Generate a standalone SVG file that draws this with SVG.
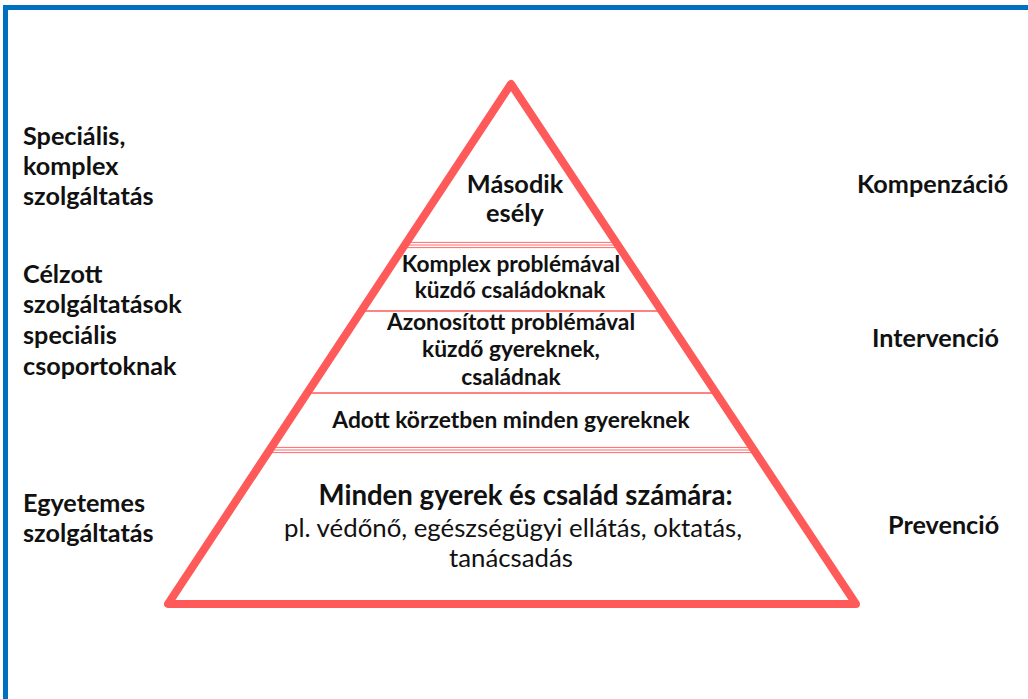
<svg xmlns="http://www.w3.org/2000/svg" width="1028" height="699" viewBox="0 0 1028 699">
<style>
text{font-family:Lato,"Liberation Sans",sans-serif;fill:#111;}
.b{font-weight:bold;}
.side{font-size:25.2px;font-weight:bold;}
.c{text-anchor:middle;}
.div{stroke:#ff5a5a;stroke-width:1.6;fill:none;}
.tri3{stroke:#ff6a6a;stroke-width:1;fill:none;}
</style>
<rect x="0" y="0" width="1028" height="699" fill="#fff"/>
<rect id="frame" x="5.5" y="7.5" width="1040" height="720" fill="none" stroke="#0070c0" stroke-width="5"/>
<g id="connectors">
  <g class="tri3">
    <line x1="406.5" y1="242.4" x2="616.1" y2="242.4"/>
    <line x1="404.8" y1="245" x2="617.8" y2="245"/>
    <line x1="403.2" y1="247.6" x2="619.5" y2="247.6"/>
    <line x1="271.3" y1="447.4" x2="752.1" y2="447.4"/>
    <line x1="269.6" y1="450" x2="753.8" y2="450"/>
    <line x1="267.9" y1="452.6" x2="755.5" y2="452.6"/>
  </g>
  <line class="div" x1="361.3" y1="311" x2="661.6" y2="311"/>
  <line class="div" x1="307.2" y1="393" x2="716" y2="393"/>
</g>
<g id="pyramid">
  <path d="M511 84 L168 604 L856 604 Z" fill="none" stroke="#ff5a5a" stroke-width="8" stroke-linejoin="round"/>
</g>
<g id="level1">
  <text class="b c" x="515" y="193" font-size="25.3">Második</text>
  <text class="b c" x="515" y="222" font-size="25.3">esély</text>
</g>
<g id="level2">
  <text class="b c" x="511" y="272" font-size="22.7">Komplex problémával</text>
  <text class="b c" x="510" y="298" font-size="22.7">küzdő családoknak</text>
</g>
<g id="level3">
  <text class="b c" x="511" y="330" font-size="22.8">Azonosított problémával</text>
  <text class="b c" x="511" y="357" font-size="22.8">küzdő gyereknek,</text>
  <text class="b c" x="511" y="385" font-size="22.8">családnak</text>
</g>
<g id="level4">
  <text class="b c" x="511" y="428" font-size="22.8">Adott körzetben minden gyereknek</text>
</g>
<g id="level5">
  <text class="b c" x="525.5" y="505" font-size="27.6">Minden gyerek és család számára:</text>
  <text class="c" x="513" y="537" font-size="25.8">pl. védőnő, egészségügyi ellátás, oktatás,</text>
  <text class="c" x="511" y="567" font-size="25.8">tanácsadás</text>
</g>
<g id="left-labels">
  <text class="side" x="23" y="145">Speciális,</text>
  <text class="side" x="23" y="175">komplex</text>
  <text class="side" x="23" y="205">szolgáltatás</text>
  <text class="side" x="23" y="283">Célzott</text>
  <text class="side" x="23" y="313">szolgáltatások</text>
  <text class="side" x="23" y="344">speciális</text>
  <text class="side" x="23" y="375">csoportoknak</text>
  <text class="side" x="23" y="512">Egyetemes</text>
  <text class="side" x="23" y="542">szolgáltatás</text>
</g>
<g id="right-labels">
  <text class="side" x="857" y="193">Kompenzáció</text>
  <text class="side" x="872" y="347">Intervenció</text>
  <text class="side" x="888" y="534">Prevenció</text>
</g>
</svg>
